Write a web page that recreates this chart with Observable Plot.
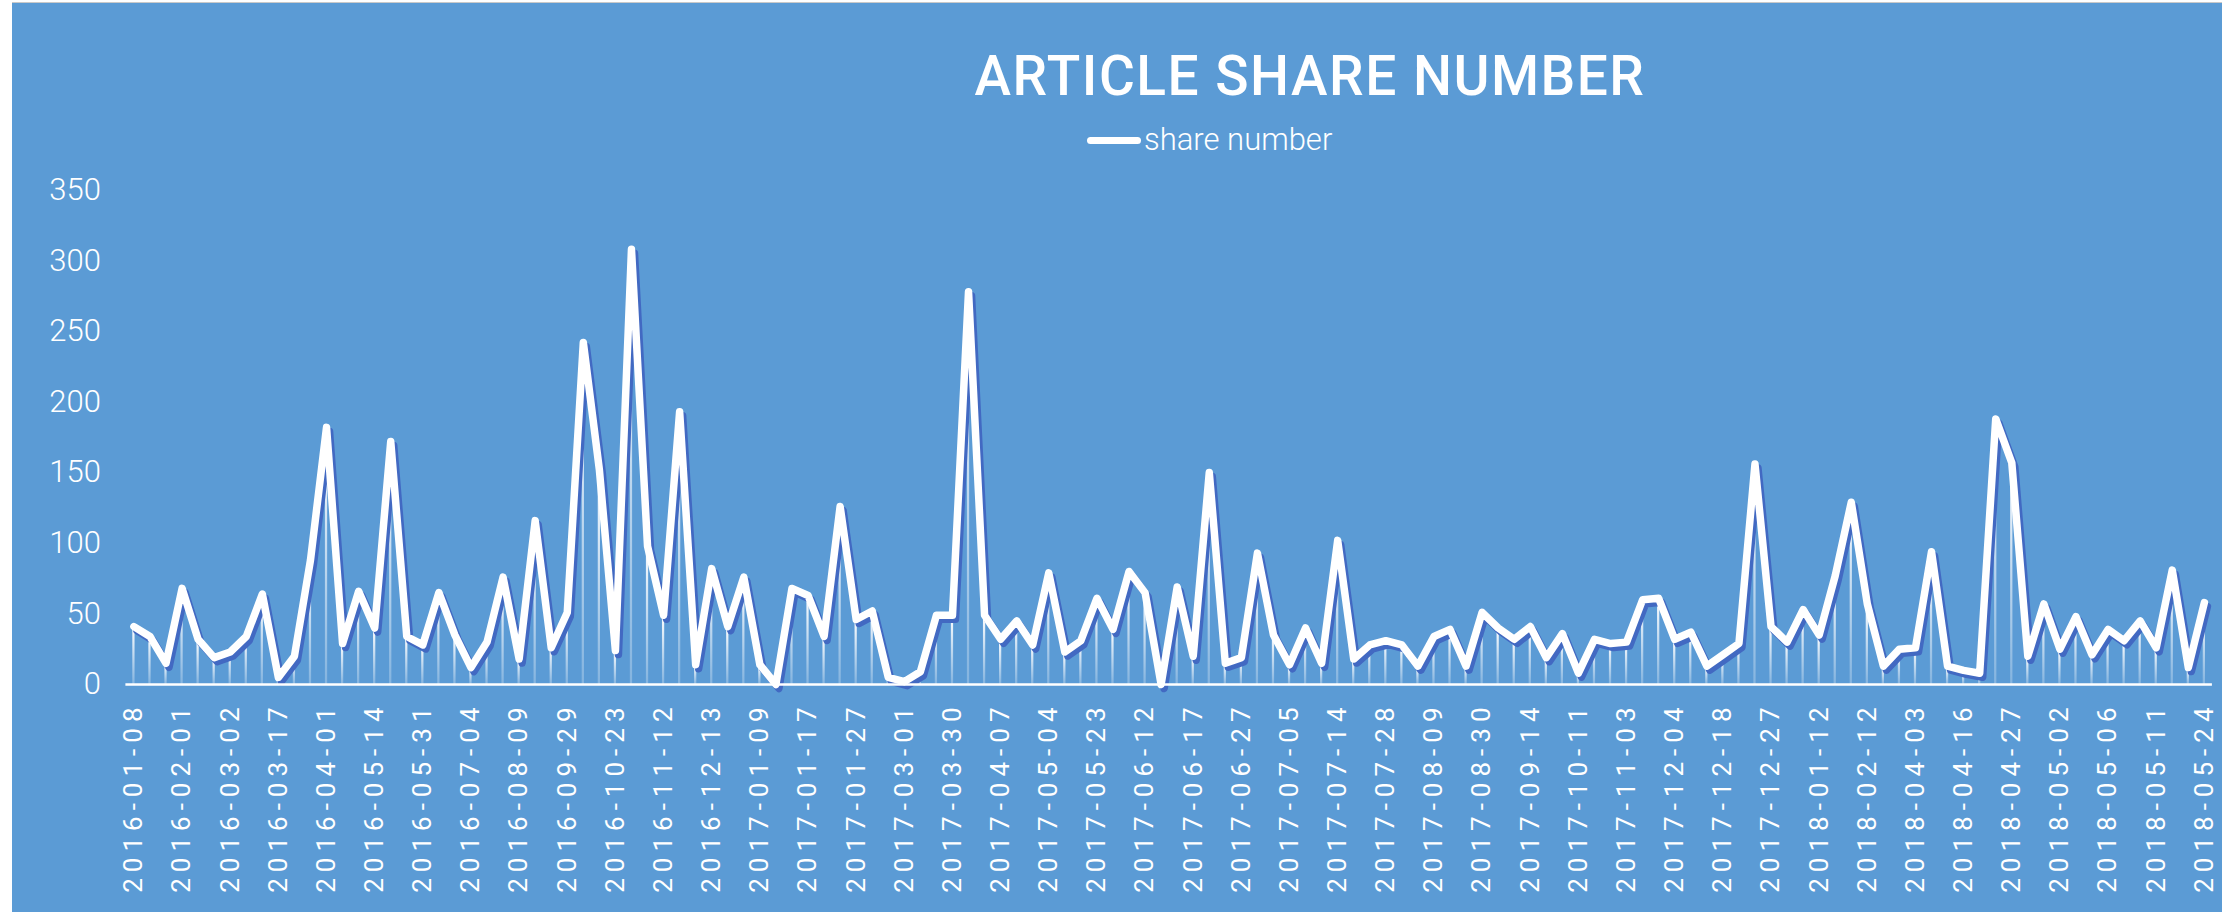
<!DOCTYPE html>
<html><head><meta charset="utf-8">
<script src="https://cdn.jsdelivr.net/npm/d3@7"></script>
<script src="https://cdn.jsdelivr.net/npm/@observablehq/plot@0.6"></script>
<style>
html,body{margin:0;padding:0;background:#fff;}
#chart{position:absolute;left:12px;top:3px;width:2210px;height:909px;background:#5B9BD5;box-shadow:0 -1px 0 #c9c9c9;overflow:hidden;}
#title{position:relative;height:110px;}
#title span{position:absolute;left:1298px;top:73px;transform:translate(-50%,-50%);font:500 55px Roboto,sans-serif;color:#fff;letter-spacing:1.5px;white-space:nowrap;}
#legend{position:relative;height:57px;}
#legend .sw{position:absolute;left:1075px;top:24px;width:54px;height:7px;border-radius:4px;background:#fff;}
#legend .lb{position:absolute;left:1132px;top:27px;transform:translateY(-52%);font:300 31px Roboto,sans-serif;color:#fff;white-space:nowrap;}
svg [aria-label="x-axis tick label"]{letter-spacing:6px;}
</style>
</head><body>
<div id="chart">
  <div id="title"><span>ARTICLE SHARE NUMBER</span></div>
  <div id="legend"><div class="sw"></div><span class="lb">share number</span></div>
  <div id="plot"></div>
</div>
<script>
// share number per article (category index order)
const shareValues = [
  41,34,15,68,32,19,23,34,64,5,
  20,88,182,29,66,40,172,34,28,65,
  35,12,30,76,18,116,26,51,242,152,
  24,308,98,49,193,14,82,41,76,14,
  0,68,63,34,126,46,52,5,2,9,
  49,49,278,49,32,45,28,79,23,31,
  61,39,80,65,0,69,20,150,15,19,
  93,35,14,40,15,102,18,28,31,28,
  13,34,39,13,51,40,32,41,19,36,
  8,32,29,30,60,61,32,37,13,21,
  29,156,41,30,53,35,77,129,57,13,
  25,26,94,13,10,8,188,157,20,57,
  25,48,21,39,31,45,26,81,12,58
];
// category labels shown on the axis (every 3rd category)
const tickLabels = [
  "2016-01-08","2016-02-01","2016-03-02","2016-03-17","2016-04-01","2016-05-14",
  "2016-05-31","2016-07-04","2016-08-09","2016-09-29","2016-10-23","2016-11-12",
  "2016-12-13","2017-01-09","2017-01-17","2017-01-27","2017-03-01","2017-03-30",
  "2017-04-07","2017-05-04","2017-05-23","2017-06-12","2017-06-17","2017-06-27",
  "2017-07-05","2017-07-14","2017-07-28","2017-08-09","2017-08-30","2017-09-14",
  "2017-10-11","2017-11-03","2017-12-04","2017-12-18","2017-12-27","2018-01-12",
  "2018-02-12","2018-04-03","2018-04-16","2018-04-27","2018-05-02","2018-05-06",
  "2018-05-11","2018-05-24"
];
const yTicks = [0,50,100,150,200,250,300,350];
const labelStep = 3;

const data = shareValues.map((v, i) => ({i, v}));
const tickIdx = tickLabels.map((_, k) => k * labelStep);
const n = shareValues.length;

const chart = Plot.plot({
  width: 2210,
  height: 742,
  marginLeft: 113.4,
  marginRight: 10.1,
  marginTop: 19.5,
  marginBottom: 228,
  style: {background: "transparent", color: "#fff", overflow: "visible"},
  x: {type: "linear", domain: [-0.5, n - 0.5]},
  y: {domain: [0, 350]},
  marks: [
    Plot.rectY(data, {x1: d => d.i - 0.07, x2: d => d.i + 0.07, y: "v", fill: "url(#dropGrad)"}),
    Plot.line(data, {x: "i", y: "v", stroke: "#4269c2", strokeWidth: 7.5, dx: 3, dy: 4, strokeLinejoin: "round", strokeLinecap: "round"}),
    Plot.line(data, {x: "i", y: "v", stroke: "#fff", strokeWidth: 7.5, strokeLinejoin: "round", strokeLinecap: "round"}),
    Plot.ruleY([0], {stroke: "#fff", strokeWidth: 2.5}),
    Plot.axisY({ticks: yTicks, tickSize: 0, tickPadding: 25, label: null, fontSize: 31, fontFamily: "Roboto, sans-serif", fontWeight: 300, fill: "#fff"}),
    Plot.axisX({ticks: tickIdx, tickFormat: i => tickLabels[i / labelStep], tickRotate: -90, tickSize: 0, tickPadding: 17, label: null, fontSize: 26, fontFamily: "Roboto, sans-serif", fontWeight: 400, fill: "#fff"})
  ]
});

const svg = d3.select(chart);
const defs = svg.insert("defs", ":first-child");
const g = defs.append("linearGradient").attr("id", "dropGrad").attr("x1", 0).attr("y1", 0).attr("x2", 0).attr("y2", 1);
g.append("stop").attr("offset", "0%").attr("stop-color", "#fff").attr("stop-opacity", 1);
g.append("stop").attr("offset", "100%").attr("stop-color", "#fff").attr("stop-opacity", 0.25);

document.getElementById("plot").appendChild(chart);
</script>
</body></html>
